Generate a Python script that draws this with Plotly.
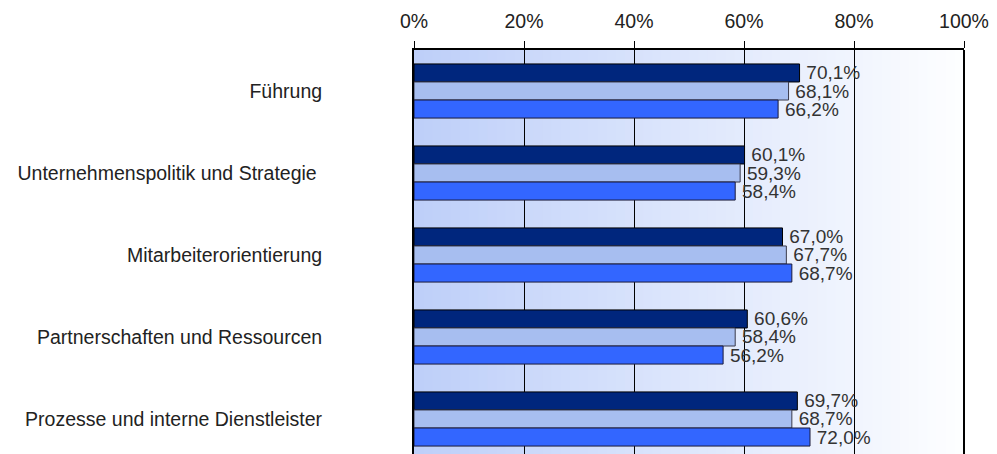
import plotly.graph_objects as go

categories = [
    "Führung",
    "Unternehmenspolitik und Strategie\u00a0",
    "Mitarbeiterorientierung",
    "Partnerschaften und Ressourcen",
    "Prozesse und interne Dienstleister",
]
series_a = [70.1, 60.1, 67.0, 60.6, 69.7]
series_b = [68.1, 59.3, 67.7, 58.4, 68.7]
series_c = [66.2, 58.4, 68.7, 56.2, 72.0]
x_ticks = [0, 20, 40, 60, 80, 100]

positions = list(range(len(categories)))
font = "Liberation Sans, Arial, sans-serif"

fig = go.Figure()
for vals, color, line_color, name in [
    (series_a, "#00267D", "#000000", "Serie 1"),
    (series_b, "#A7BEF0", "#3a3a4a", "Serie 2"),
    (series_c, "#3366FF", "#1a1a3a", "Serie 3"),
]:
    fig.add_trace(go.Bar(
        y=positions, x=vals, orientation="h", name=name,
        marker=dict(color=color, line=dict(color=line_color, width=1)),
        texttemplate="\u2009%{x:.1f}%", textposition="outside",
        textfont=dict(family=font, size=19, color="#333333"),
        constraintext="none", cliponaxis=False,
    ))

# background gradient (decoration); rects overlap slightly to avoid seams
shapes = []
n = 60
c0 = (190, 207, 249)
c1 = (253, 254, 255)
for i in range(n):
    t = i / (n - 1)
    col = tuple(round(c0[k] + (c1[k] - c0[k]) * t) for k in range(3))
    shapes.append(dict(type="rect", xref="paper", yref="paper",
                       x0=i / n, x1=min(1.0, (i + 1.6) / n), y0=0, y1=1,
                       fillcolor="rgb(%d,%d,%d)" % col, line=dict(width=0),
                       layer="below"))
shapes.append(dict(type="line", xref="paper", yref="paper", x0=1, x1=1, y0=0, y1=1,
                   line=dict(color="black", width=2)))

# the page body adds an 8px offset, so the figure is 8px smaller on each side
fig.update_layout(
    width=989, height=446,
    margin=dict(l=406, r=33, t=42, b=0),
    paper_bgcolor="white", plot_bgcolor="rgba(0,0,0,0)",
    barmode="group", bargap=0.34, bargroupgap=0,
    showlegend=False, separators=",.",
    shapes=shapes,
    xaxis=dict(
        side="top", range=[0, 100], tickvals=x_ticks,
        ticktext=[f"{v}%" for v in x_ticks],
        showgrid=True, gridcolor="black", gridwidth=1,
        showline=True, linecolor="black", linewidth=2,
        ticks="outside", ticklen=7, tickcolor="black",
        ticklabelstandoff=5,
        tickfont=dict(family=font, size=19.5, color="#222222"),
        zeroline=False, layer="below traces", automargin=False,
    ),
    yaxis=dict(
        range=[4.427, -0.5], tickvals=positions, ticktext=categories,
        showgrid=False, zeroline=False,
        showline=True, linecolor="black", linewidth=2,
        ticks="outside", ticklen=86, tickcolor="rgba(0,0,0,0)",
        tickfont=dict(family=font, size=19.5, color="#222222"),
        automargin=False,
    ),
)

fig.write_html("out.html")
